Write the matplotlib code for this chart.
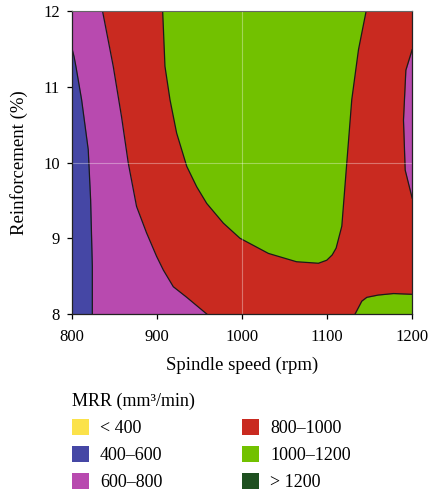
import numpy as np
import matplotlib.pyplot as plt
from matplotlib.patches import Patch

plt.rcParams['font.family'] = ['Liberation Serif', 'DejaVu Serif']

# ===== DATOS (contornos) =====
# 600 mm3/min: borde azul / magenta (izquierda)
b600_speed = [800.0, 802.5, 804.7, 811.4, 819.2, 822.0, 824.0, 824.0]
b600_reinf = [11.51, 11.4, 11.27, 10.83, 10.17, 9.51, 8.63, 8.0]

# 800 mm3/min: borde magenta / rojo (izquierda)
b800_speed = [836.0, 848.6, 858.4, 866.3, 876.0, 887.8, 899.6, 907.5, 919.2,
              935.0, 958.5]
b800_reinf = [12.0, 11.27, 10.6, 9.99, 9.42, 9.07, 8.76, 8.58, 8.36,
              8.22, 8.0]

# 1000 mm3/min: zona verde central (en U)
b1000_speed = [906.7, 909.4, 915.3, 923.1, 935.0, 946.7, 958.5, 978.0, 997.6,
               1031.0, 1064.0, 1089.8, 1099.6, 1106.0, 1110.6, 1117.3, 1123.1,
               1129.0, 1136.9, 1145.9]
b1000_reinf = [12.0, 11.27, 10.83, 10.39, 9.95, 9.68, 9.46, 9.2, 9.0,
               8.8, 8.69, 8.67, 8.71, 8.78, 8.87, 9.16, 9.99,
               10.83, 11.49, 12.0]

# 800 mm3/min: magenta en el borde derecho
r800_speed = [1200.0, 1192.6, 1189.8, 1191.8, 1200.0]
r800_reinf = [11.49, 11.22, 10.56, 9.9, 9.53]

# 1000 mm3/min: verde abajo a la derecha
br1000_speed = [1132.9, 1140.8, 1146.7, 1160.0, 1178.0, 1200.0]
br1000_reinf = [8.0, 8.17, 8.22, 8.25, 8.27, 8.26]

labels = ['< 400', '400–600', '600–800', '800–1000', '1000–1200', '> 1200']
colors = ['#fbe24a', '#4547a5', '#b84aaf', '#c92a20', '#72c100', '#1e5020']

fig = plt.figure(figsize=(4.28, 4.91), dpi=100)
ax = fig.add_axes([0.168, 0.3605, 0.795, 0.617])

# fondo rojo (800-1000)
ax.set_facecolor(colors[3])
ax.fill_betweenx(b800_reinf, 800, b800_speed, color=colors[2], lw=0)
ax.fill_betweenx([12.0] + b600_reinf, 800, [800.0] + b600_speed, color=colors[1], lw=0)
ax.fill(b1000_speed, b1000_reinf, color=colors[4], lw=0)
ax.fill_betweenx(r800_reinf, r800_speed, 1200, color=colors[2], lw=0)
ax.fill_between(br1000_speed, 8, br1000_reinf, color=colors[4], lw=0)

for xs, ys in [(b600_speed, b600_reinf), (b800_speed, b800_reinf),
               (b1000_speed, b1000_reinf), (r800_speed, r800_reinf),
               (br1000_speed, br1000_reinf)]:
    ax.plot(xs, ys, color='#1a1a1a', lw=0.9, solid_joinstyle='round')

ax.axvline(1000, color='white', lw=0.8, alpha=0.35)
ax.axhline(10, color='white', lw=0.8, alpha=0.35)

ax.set_xlim(800, 1200)
ax.set_ylim(8, 12)
ax.set_xticks([800, 900, 1000, 1100, 1200])
ax.set_yticks([8, 9, 10, 11, 12])
ax.tick_params(direction='out', length=3.5, width=0.9, labelsize=12)
ax.tick_params(axis='x', pad=7)
ax.tick_params(axis='y', pad=5)
for s in ['left', 'bottom', 'right']:
    ax.spines[s].set_color('#222222')
    ax.spines[s].set_linewidth(0.9)
ax.spines['top'].set_color('#666666')
ax.spines['top'].set_linewidth(0.8)

ax.set_xlabel('Spindle speed (rpm)', fontsize=13.5, labelpad=9)
ax.set_ylabel('Reinforcement (%)', fontsize=13.5, labelpad=11)

handles = [Patch(facecolor=c, edgecolor='none') for c in colors]
leg = fig.legend(handles, labels, ncol=2, loc='upper left',
                 bbox_to_anchor=(72 / 428, 0.2), frameon=False, borderpad=0,
                 title='MRR (mm³/min)', fontsize=13, title_fontsize=13,
                 handlelength=0.95, handleheight=0.95, handletextpad=0.6,
                 labelspacing=0.5, columnspacing=4.4, borderaxespad=0)
leg._legend_box.align = 'left'

plt.savefig('out.png', dpi=100)
plt.close()
